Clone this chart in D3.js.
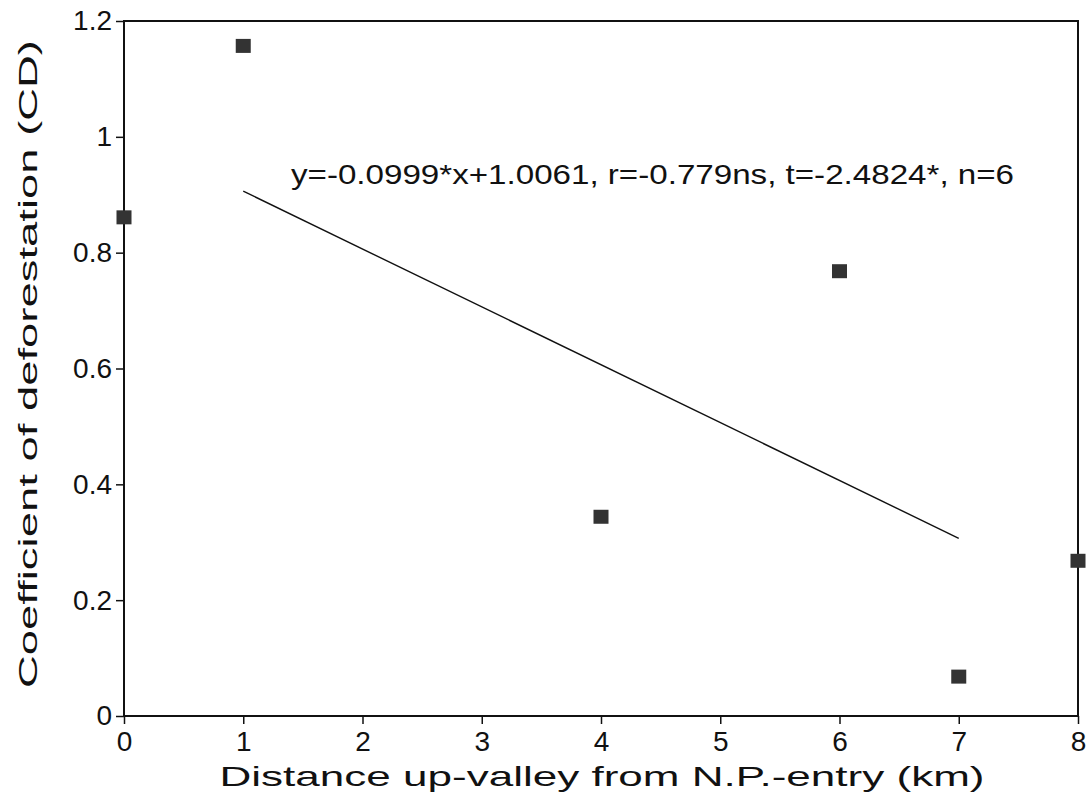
<!DOCTYPE html>
<html>
<head>
<meta charset="utf-8">
<script src="https://cdn.jsdelivr.net/npm/d3@7"></script>
<style>
  html, body { margin: 0; padding: 0; background: #fff; }
  text { font-family: "Liberation Sans", Arial, sans-serif; fill: #111; }
</style>
</head>
<body>
<svg id="chart" width="1088" height="799"></svg>
<script>
// Data
const distanceKm = [0, 1, 4, 6, 7, 8];
const cdValues   = [0.861, 1.157, 0.344, 0.768, 0.068, 0.268];
const xTickValues = [0, 1, 2, 3, 4, 5, 6, 7, 8];
const yTickValues = [0, 0.2, 0.4, 0.6, 0.8, 1, 1.2];
const yTickLabels = ["0", "0.2", "0.4", "0.6", "0.8", "1", "1.2"];
const regSlope = -0.0999;
const regIntercept = 1.0061;
const regXRange = [1, 7];
const annotation = "y=-0.0999*x+1.0061, r=-0.779ns,  t=-2.4824*, n=6";
const xTitle = "Distance up-valley from N.P.-entry (km)";
const yTitle = "Coefficient of deforestation (CD)";

const W = 1088, H = 799;
const margin = { left: 124, right: 10, top: 21, bottom: 83 };
const svg = d3.select("#chart");

const x = d3.scaleLinear().domain([0, 8]).range([margin.left, W - margin.right]);
const y = d3.scaleLinear().domain([0, 1.2]).range([H - margin.bottom, margin.top]);

// Frame
svg.append("rect")
  .attr("x", x(0)).attr("y", y(1.2))
  .attr("width", x(8) - x(0)).attr("height", y(0) - y(1.2))
  .attr("fill", "none").attr("stroke", "#111").attr("stroke-width", 2);

// X axis
const xAxis = d3.axisBottom(x).tickValues(xTickValues).tickSize(8).tickPadding(7)
  .tickFormat(d3.format("d"));
const gx = svg.append("g").attr("transform", `translate(0,${y(0)})`).call(xAxis);
gx.select(".domain").remove();
gx.selectAll(".tick line").attr("stroke", "#111").attr("stroke-width", 1.5);
gx.selectAll(".tick text").style("font-size", "28px")
  .style("font-family", "Liberation Sans, Arial, sans-serif").attr("fill", "#111");

// Y axis
const yAxis = d3.axisLeft(y).tickValues(yTickValues).tickSize(8).tickPadding(4)
  .tickFormat((d, i) => yTickLabels[i]);
const gy = svg.append("g").attr("transform", `translate(${x(0)},0)`).call(yAxis);
gy.select(".domain").remove();
gy.selectAll(".tick line").attr("stroke", "#111").attr("stroke-width", 1.5);
gy.selectAll(".tick text").style("font-size", "28px")
  .style("font-family", "Liberation Sans, Arial, sans-serif").attr("fill", "#111");

// Regression line
svg.append("line")
  .attr("x1", x(regXRange[0])).attr("y1", y(regSlope * regXRange[0] + regIntercept))
  .attr("x2", x(regXRange[1])).attr("y2", y(regSlope * regXRange[1] + regIntercept))
  .attr("stroke", "#111").attr("stroke-width", 1.4);

// Points
const s = 15;
svg.append("g").selectAll("rect")
  .data(distanceKm.map((d, i) => ({ x: d, y: cdValues[i] })))
  .join("rect")
  .attr("x", d => x(d.x) - s / 2)
  .attr("y", d => y(d.y) - 7)
  .attr("width", s).attr("height", 14)
  .attr("fill", "#333");

// Annotation
svg.append("text")
  .attr("x", 291).attr("y", 184)
  .attr("textLength", 723).attr("lengthAdjust", "spacingAndGlyphs")
  .style("font-size", "28px")
  .text(annotation);

// Axis titles
svg.append("text")
  .attr("x", 602).attr("y", 786)
  .attr("text-anchor", "middle")
  .attr("textLength", 765).attr("lengthAdjust", "spacingAndGlyphs")
  .style("font-size", "28px")
  .text(xTitle);

svg.append("text")
  .attr("transform", "translate(37,364) rotate(-90)")
  .attr("text-anchor", "middle")
  .attr("textLength", 648).attr("lengthAdjust", "spacingAndGlyphs")
  .style("font-size", "26px")
  .text(yTitle);
</script>
</body>
</html>
